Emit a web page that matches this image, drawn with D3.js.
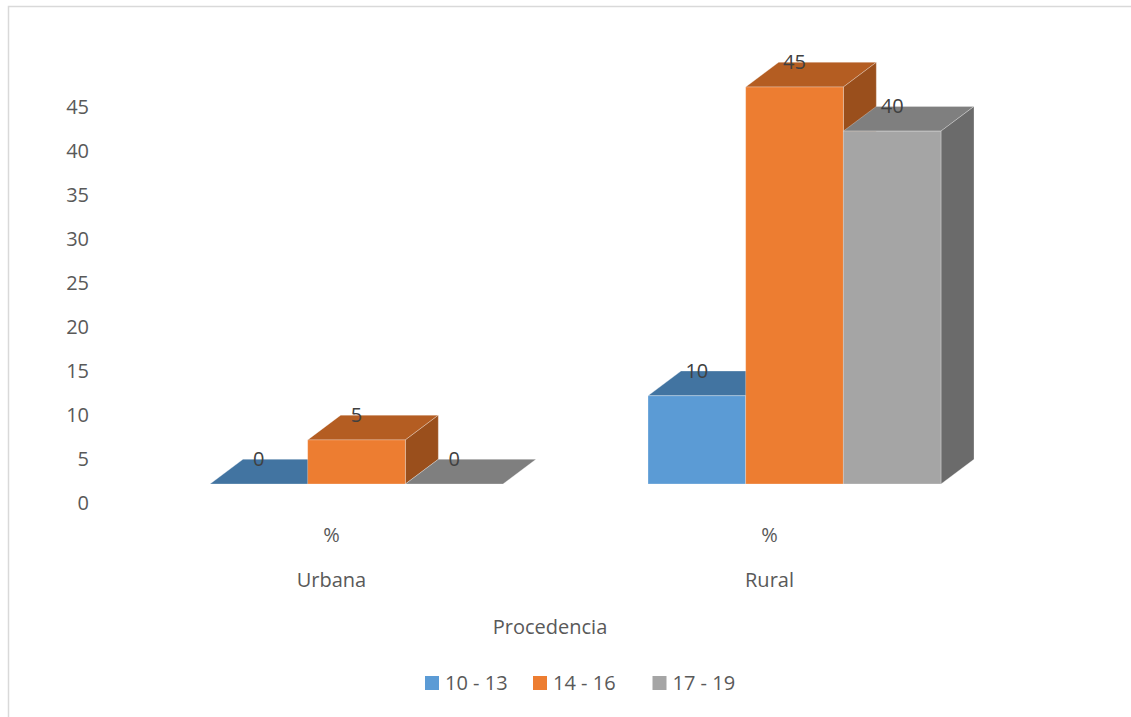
<!DOCTYPE html>
<html>
<head>
<meta charset="utf-8">
<script src="https://cdn.jsdelivr.net/npm/d3@7"></script>
<style>
  html, body { margin: 0; padding: 0; background: #fff; }
  svg { display: block; font-family: "Open Sans", "Noto Sans", sans-serif; }
</style>
</head>
<body>
<svg id="chart" width="1131" height="717"></svg>
<script>
// Age groups by place of origin (percentages)
const categories = ["Urbana", "Rural"];
const seriesNames = ["10 - 13", "14 - 16", "17 - 19"];
const urbanaValues = [0, 5, 0];
const ruralValues = [10, 45, 40];
const yTicks = [0, 5, 10, 15, 20, 25, 30, 35, 40, 45];
const subLabel = "%";
const axisTitle = "Procedencia";

const frontColors = ["#5B9BD5", "#ED7D31", "#A5A5A5"];
const topColors   = ["#4274A1", "#B45D22", "#7F7F7F"];
const sideColors  = ["#37618A", "#9A4F1C", "#6B6B6B"];

const svg = d3.select("#chart");
const W = 1131, H = 717;

// outer chart frame
svg.append("rect")
  .attr("x", 8.5).attr("y", 6.5)
  .attr("width", W + 20).attr("height", H + 20)
  .attr("fill", "#fff").attr("stroke", "#D9D9D9").attr("stroke-width", 1.5);

// depth projection of the 3D columns
const depthX = 33, depthY = -24.7;

// category bands along the floor
const x = d3.scaleBand().domain(categories).range([112.5, 988.5]);
// series positions inside each band, relative to the band centre
const xs = d3.scaleBand().domain(seriesNames).range([-121.5, 171.5]);
// value scale on the front plane of the columns
const y = d3.scaleLinear().domain([0, 45]).range([484, 87]);
// value scale used for the axis labels
const yAxisScale = d3.scaleLinear().domain([0, 45]).range([503, 107]);

const rows = categories.map((c, i) => ({
  category: c,
  values: i === 0 ? urbanaValues : ruralValues
}));

const bars = [];
rows.forEach(r => {
  r.values.forEach((v, j) => {
    bars.push({ category: r.category, series: seriesNames[j], idx: j, value: v });
  });
});

// y axis labels
const yAxis = d3.axisLeft(yAxisScale).tickValues(yTicks).tickSize(0).tickPadding(3);
const gy = svg.append("g").attr("transform", "translate(92,0)").call(yAxis);
gy.select(".domain").remove();
gy.selectAll("text")
  .attr("fill", "#595959")
  .style("font-size", "20px")
  .style("font-family", "'Open Sans', sans-serif");

const line = d3.line();
const gBars = svg.append("g");

bars.forEach(b => {
  const x0 = x(b.category) + x.bandwidth() / 2 + xs(b.series);
  const x1 = x0 + xs.bandwidth();
  const yb = y(0);
  const yt = y(b.value);
  const g = gBars.append("g");
  // top face
  g.append("path")
    .attr("d", line([[x0, yt], [x1, yt], [x1 + depthX, yt + depthY], [x0 + depthX, yt + depthY]]) + "Z")
    .attr("fill", topColors[b.idx])
    .attr("stroke", "rgba(255,255,255,0.35)").attr("stroke-width", 0.8);
  if (b.value > 0) {
    // side face
    g.append("path")
      .attr("d", line([[x1, yt], [x1 + depthX, yt + depthY], [x1 + depthX, yb + depthY], [x1, yb]]) + "Z")
      .attr("fill", sideColors[b.idx])
      .attr("stroke", "rgba(255,255,255,0.35)").attr("stroke-width", 0.8);
    // front face
    g.append("rect")
      .attr("x", x0).attr("y", yt)
      .attr("width", x1 - x0).attr("height", yb - yt)
      .attr("fill", frontColors[b.idx])
      .attr("stroke", "rgba(255,255,255,0.35)").attr("stroke-width", 0.8);
  }
});

// value labels above each column
svg.append("g").selectAll("text")
  .data(bars)
  .join("text")
  .attr("x", d => x(d.category) + x.bandwidth() / 2 + xs(d.series) + xs.bandwidth() / 2)
  .attr("y", d => y(d.value) + depthY)
  .attr("dy", "0.35em")
  .attr("text-anchor", "middle")
  .attr("fill", "#404040")
  .style("font-size", "20px")
  .text(d => d.value);

// category labels (two levels)
const gx = svg.append("g");
categories.forEach(c => {
  const cx = x(c) + x.bandwidth() / 2;
  gx.append("text")
    .attr("x", cx).attr("y", 535).attr("dy", "0.35em")
    .attr("text-anchor", "middle").attr("fill", "#595959")
    .style("font-size", "20px").text(subLabel);
  gx.append("text")
    .attr("x", cx).attr("y", 580).attr("dy", "0.35em")
    .attr("text-anchor", "middle").attr("fill", "#595959")
    .style("font-size", "20px").text(c);
});

// axis title
svg.append("text")
  .attr("x", 550).attr("y", 627).attr("dy", "0.35em")
  .attr("text-anchor", "middle").attr("fill", "#595959")
  .style("font-size", "20px").text(axisTitle);

// legend
const legendX = [425, 533, 652.5];
const legend = svg.append("g");
seriesNames.forEach((s, i) => {
  legend.append("rect")
    .attr("x", legendX[i]).attr("y", 676)
    .attr("width", 14).attr("height", 14)
    .attr("fill", frontColors[i]);
  legend.append("text")
    .attr("x", legendX[i] + 20).attr("y", 683).attr("dy", "0.35em")
    .attr("fill", "#595959")
    .style("font-size", "20px").text(s);
});
</script>
</body>
</html>
